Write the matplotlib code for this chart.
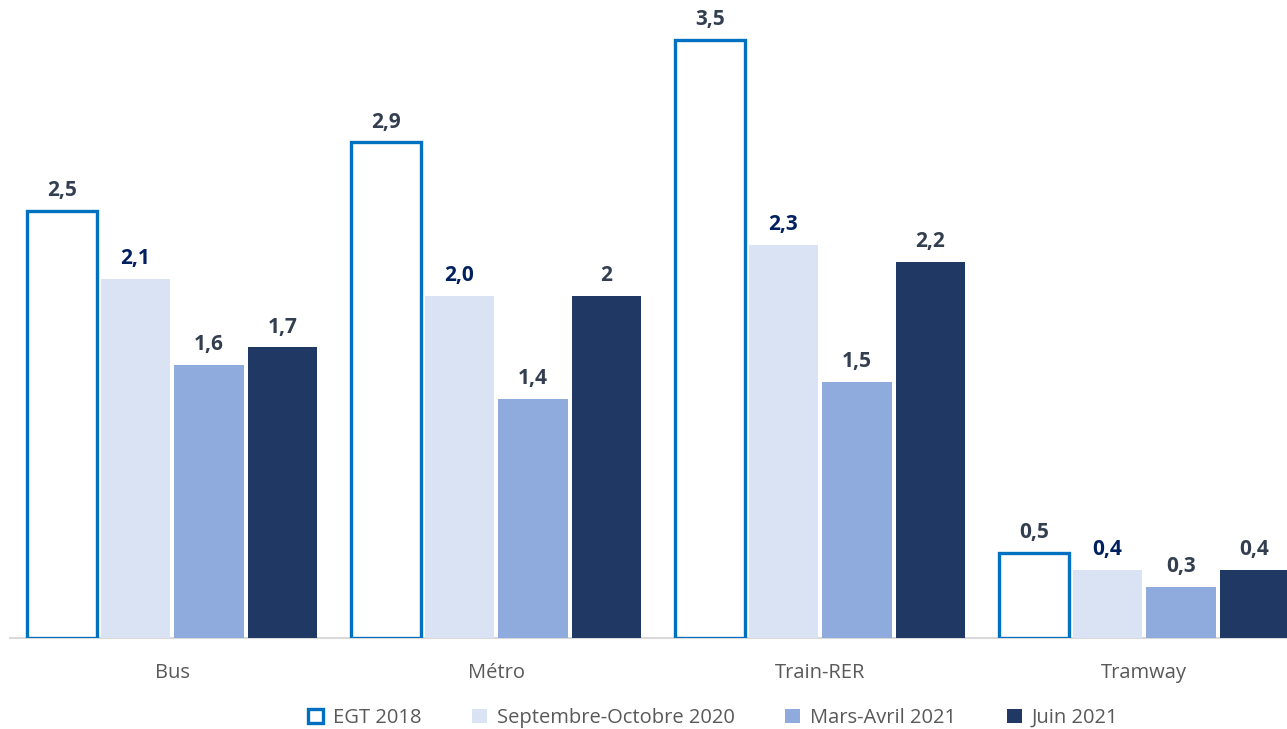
import matplotlib
matplotlib.use("Agg")
import matplotlib.pyplot as plt
import numpy as np
from matplotlib.patches import Patch

categories = ["Bus", "Métro", "Train-RER", "Tramway"]
series_names = ["EGT 2018", "Septembre-Octobre 2020", "Mars-Avril 2021", "Juin 2021"]
egt_2018 = [2.5, 2.9, 3.5, 0.5]
sept_oct_2020 = [2.1, 2.0, 2.3, 0.4]
mars_avril_2021 = [1.6, 1.4, 1.5, 0.3]
juin_2021 = [1.7, 2.0, 2.2, 0.4]
labels_egt = ["2,5", "2,9", "3,5", "0,5"]
labels_sept = ["2,1", "2,0", "2,3", "0,4"]
labels_mars = ["1,6", "1,4", "1,5", "0,3"]
labels_juin = ["1,7", "2", "2,2", "0,4"]

plt.rcParams['font.family'] = ['Open Sans', 'DejaVu Sans']

W, H = 1287, 729
fig = plt.figure(figsize=(W / 100, H / 100), dpi=100)
ax = fig.add_axes([10 / W, (H - 638) / H, (1306 - 10) / W, 638 / H])

x = np.arange(len(categories))
pitch = 73.5 / 324
bw = 69.5 / 324
offsets = (np.arange(4) - 1.5) * pitch

series = [egt_2018, sept_oct_2020, mars_avril_2021, juin_2021]
labels = [labels_egt, labels_sept, labels_mars, labels_juin]
fills = ["white", "#DAE3F3", "#8FAADC", "#203864"]
label_colors = ["#333F50", "#002060", "#333F50", "#333F50"]

for i, (vals, labs) in enumerate(zip(series, labels)):
    if i == 0:
        ax.bar(x + offsets[i], vals, bw, facecolor="white", edgecolor="#0070C0",
               linewidth=2.4, zorder=3)
    else:
        ax.bar(x + offsets[i], vals, bw, color=fills[i], linewidth=0, zorder=3)
    for xi, v, lab in zip(x + offsets[i], vals, labs):
        ax.annotate(lab, (xi, v), xytext=(0, 7), textcoords="offset points",
                    ha="center", va="bottom", fontsize=15, fontweight="bold",
                    color=label_colors[i])

ax.set_xlim(-0.5, 3.5)
ax.set_ylim(0, 638 / 170.9)
for s in ["top", "right", "left"]:
    ax.spines[s].set_visible(False)
ax.spines["bottom"].set_color("#D9D9D9")
ax.spines["bottom"].set_linewidth(1.5)
ax.set_yticks([])
ax.set_xticks(x)
ax.set_xticklabels(categories, fontsize=14.5, color="#595959")
ax.tick_params(axis="x", length=0, pad=18)

handles = [Patch(facecolor="white", edgecolor="#0070C0", linewidth=2.4),
           Patch(facecolor=fills[1]), Patch(facecolor=fills[2]), Patch(facecolor=fills[3])]
fig.legend(handles, series_names, loc="center", bbox_to_anchor=(713 / W, 1 - 718 / H),
           ncol=4, frameon=False, fontsize=14.5, labelcolor="#595959",
           handlelength=0.75, handleheight=0.75, handletextpad=0.5, columnspacing=2.5)

fig.savefig("out.png", dpi=100)
